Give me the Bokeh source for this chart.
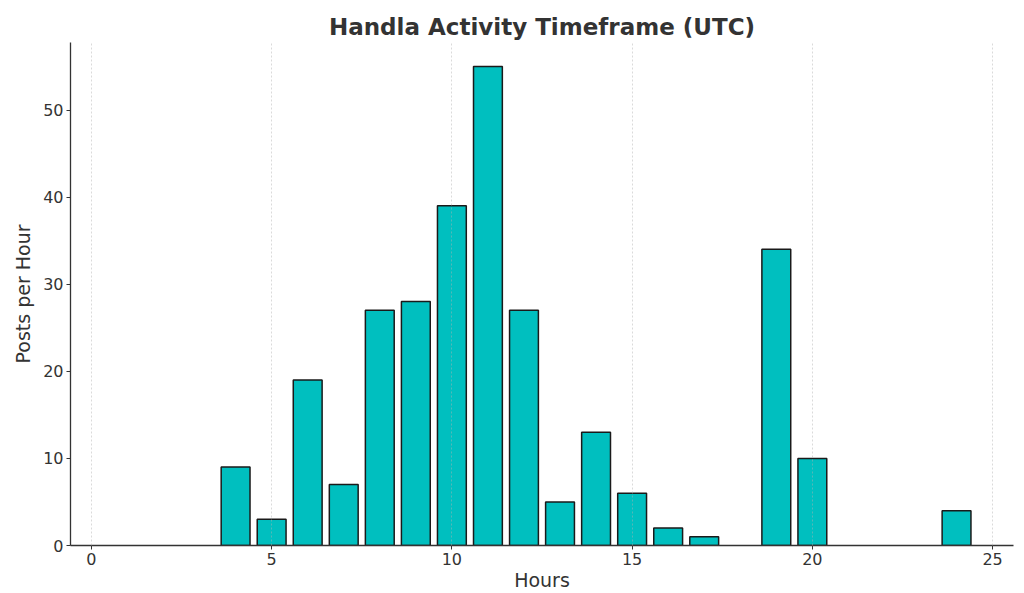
from bokeh.plotting import figure
from bokeh.models import Range1d, FixedTicker, ColumnDataSource
from bokeh.embed import file_html
from bokeh.resources import INLINE

hours = [4, 5, 6, 7, 8, 9, 10, 11, 12, 13, 14, 15, 16, 17, 19, 20, 24]
posts = [9, 3, 19, 7, 27, 28, 39, 55, 27, 5, 13, 6, 2, 1, 34, 10, 4]
x_ticks = [0, 5, 10, 15, 20, 25]
y_ticks = [0, 10, 20, 30, 40, 50]
title_text = "Handla Activity Timeframe (UTC)"
x_label = "Hours"
y_label = "Posts per Hour"

FONT = "DejaVu Sans"
TXT = "#333333"

src = ColumnDataSource(dict(x=hours, top=posts))

p = figure(width=1024, height=593, output_backend="svg", toolbar_location=None,
           x_range=Range1d(-0.58, 25.58), y_range=Range1d(0, 57.75),
           min_border_left=70, min_border_right=11, min_border_top=42, min_border_bottom=10,
           title=title_text)

p.title.align = "center"
p.title.text_font = FONT
p.title.text_font_size = "23px"
p.title.text_font_style = "bold"
p.title.text_color = TXT
p.title.standoff = 6

p.outline_line_color = None
p.background_fill_color = "white"
p.border_fill_color = "white"

p.vbar(x="x", top="top", width=0.8, bottom=0, source=src,
       fill_color="#00BFBF", line_color="#1a1a1a", line_width=1.5)

p.xaxis.ticker = FixedTicker(ticks=x_ticks)
p.yaxis.ticker = FixedTicker(ticks=y_ticks)
for ax in (p.xaxis[0], p.yaxis[0]):
    ax.axis_line_color = "#333333"
    ax.axis_line_width = 1.3
    ax.major_tick_line_color = "#333333"
    ax.major_tick_out = 4
    ax.major_tick_in = 0
    ax.minor_tick_line_color = None
    ax.major_label_text_font = FONT
    ax.major_label_text_font_size = "16px"
    ax.major_label_text_color = TXT
    ax.major_label_standoff = 3

for ax, lab, so in ((p.xaxis[0], x_label, 1), (p.yaxis[0], y_label, 6)):
    ax.axis_label = lab
    ax.axis_label_text_font = FONT
    ax.axis_label_text_font_size = "19px"
    ax.axis_label_text_font_style = "normal"
    ax.axis_label_text_color = TXT
    ax.axis_label_standoff = so

p.ygrid.grid_line_color = None
p.xgrid.ticker = FixedTicker(ticks=x_ticks)
p.xgrid.grid_line_color = "#b0b0b0"
p.xgrid.grid_line_alpha = 0.6
p.xgrid.grid_line_dash = "2 2"
p.xgrid.grid_line_width = 0.8
p.xgrid.level = "overlay"

open("out.html", "w").write(file_html(p, INLINE))
